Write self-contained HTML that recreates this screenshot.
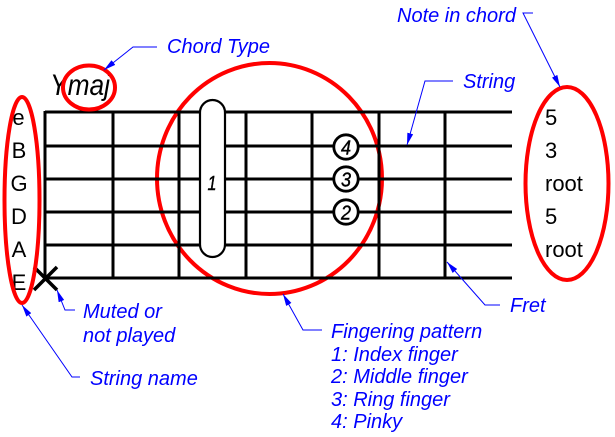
<!DOCTYPE html>
<html>
<head>
<meta charset="utf-8">
<style>
html,body{margin:0;padding:0;background:#fff;}
svg{display:block;}
.blue{font-family:"Liberation Sans",sans-serif;font-style:italic;font-size:20px;fill:#0000ff;}
.blk{font-family:"Liberation Sans",sans-serif;font-size:22px;fill:#000;}
.fn{font-family:"Liberation Sans",sans-serif;font-style:italic;font-size:20px;fill:#000;stroke:#000;stroke-width:0.4;}
</style>
</head>
<body>
<svg width="615" height="437" viewBox="0 0 615 437" xmlns="http://www.w3.org/2000/svg">
<defs>
<marker id="ar" markerUnits="userSpaceOnUse" markerWidth="12" markerHeight="6" refX="12" refY="3" orient="auto">
<path d="M0,0 L12,3 L0,6 z" fill="#0000ff"/>
</marker>
</defs>

<!-- big red circle behind grid -->
<ellipse cx="269.5" cy="178.5" rx="112.5" ry="115.5" fill="none" stroke="#ff0000" stroke-width="4"/>

<!-- strings -->
<g stroke="#000" stroke-width="3">
<line x1="45" y1="112" x2="512" y2="112"/>
<line x1="45" y1="146" x2="512" y2="146"/>
<line x1="45" y1="179" x2="512" y2="179"/>
<line x1="45" y1="212" x2="512" y2="212"/>
<line x1="45" y1="245" x2="512" y2="245"/>
<line x1="45" y1="278" x2="512" y2="278"/>
<!-- frets -->
<line x1="45" y1="111" x2="45" y2="279"/>
<line x1="113" y1="111" x2="113" y2="279"/>
<line x1="179" y1="111" x2="179" y2="279"/>
<line x1="246" y1="111" x2="246" y2="279"/>
<line x1="312" y1="111" x2="312" y2="279"/>
<line x1="379" y1="111" x2="379" y2="279"/>
<line x1="445" y1="111" x2="445" y2="279"/>
</g>

<!-- barre capsule -->
<rect x="200" y="100" width="25" height="157" rx="12.5" ry="12.5" fill="#fff" stroke="#000" stroke-width="2.2"/>
<text class="fn" x="212" y="190" text-anchor="middle" textLength="9" lengthAdjust="spacingAndGlyphs">1</text>

<!-- finger circles -->
<g fill="#fff" stroke="#000" stroke-width="2.8">
<circle cx="346" cy="147" r="12.2"/>
<circle cx="346" cy="179" r="12.2"/>
<circle cx="346" cy="212" r="12.2"/>
</g>
<text class="fn" x="346" y="154.5" text-anchor="middle" textLength="10" lengthAdjust="spacingAndGlyphs">4</text>
<text class="fn" x="346" y="186.5" text-anchor="middle" textLength="10" lengthAdjust="spacingAndGlyphs">3</text>
<text class="fn" x="346" y="219.5" text-anchor="middle" textLength="10" lengthAdjust="spacingAndGlyphs">2</text>

<!-- string names -->
<g class="blk" text-anchor="middle">
<text x="18.5" y="125">e</text>
<text x="19" y="158">B</text>
<text x="19" y="191">G</text>
<text x="19" y="224">D</text>
<text x="19" y="257">A</text>
<text x="19" y="290">E</text>
</g>

<!-- notes -->
<g class="blk">
<text x="545" y="125">5</text>
<text x="545" y="158">3</text>
<text x="545" y="191">root</text>
<text x="545" y="224">5</text>
<text x="545" y="257">root</text>
</g>

<!-- chord name -->
<text x="50" y="95" font-family="Liberation Sans, sans-serif" font-style="italic" font-size="30" fill="#000" textLength="60" lengthAdjust="spacingAndGlyphs">Ymaj</text>

<!-- muted X -->
<g stroke="#000" stroke-width="3.5">
<line x1="34" y1="267" x2="57" y2="290"/>
<line x1="34" y1="290" x2="57" y2="267"/>
</g>

<!-- red ellipses -->
<g fill="none" stroke="#ff0000" stroke-width="4">
<ellipse cx="22" cy="200" rx="17.5" ry="103"/>
<ellipse cx="89" cy="87.5" rx="26" ry="22"/>
<ellipse cx="567" cy="183.5" rx="41.5" ry="96.5"/>
</g>

<!-- leaders -->
<g fill="none" stroke="#0000ff" stroke-width="1" marker-end="url(#ar)">
<polyline points="157,47 133,47 104,70"/>
<polyline points="533,13 523,13 560,87"/>
<polyline points="453,81 425,81 407,145"/>
<polyline points="500,305 485,305 447,262"/>
<polyline points="322,330 303,330 283,294"/>
<polyline points="75,310 65,310 57,290"/>
<polyline points="80,377 72,377 22,305"/>
</g>

<!-- blue labels -->
<text class="blue" x="167" y="53">Chord Type</text>
<text class="blue" x="397" y="22">Note in chord</text>
<text class="blue" x="463" y="88">String</text>
<text class="blue" x="510" y="312">Fret</text>
<text class="blue" x="83" y="318">Muted or</text>
<text class="blue" x="83" y="342">not played</text>
<text class="blue" x="90" y="385">String name</text>
<text class="blue" x="331" y="338">Fingering pattern</text>
<text class="blue" x="331" y="361">1: Index finger</text>
<text class="blue" x="331" y="383">2: Middle finger</text>
<text class="blue" x="331" y="406">3: Ring finger</text>
<text class="blue" x="331" y="428">4: Pinky</text>
</svg>
</body>
</html>
